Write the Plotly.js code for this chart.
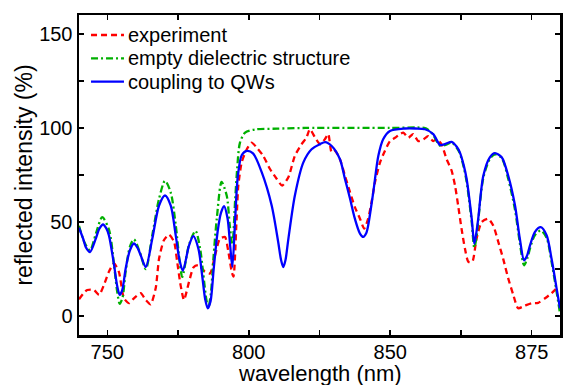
<!DOCTYPE html>
<html>
<head>
<meta charset="utf-8">
<script src="https://cdn.plot.ly/plotly-3.0.1.min.js"></script>
<style>html,body{margin:0;padding:0;background:#fff;}#chart{width:563px;height:385px;}</style>
</head>
<body>
<div id="chart"></div>
<script>
// experiment (red dashed)
const expX = [740,741.5,742.9,745.3,747.1,748.8,750.6,752.4,754.1,755.9,757.7,759.4,761.8,763.6,765.3,767.1,768.3,770,771.8,773.6,774.7,775.9,777.1,778.9,780.5,782.2,784.5,786.3,788.1,789.8,791.6,792.8,794,794.6,795.7,796.3,797.5,799.3,801,802.8,805.1,807.5,809.9,811.8,814,816.3,818.7,820.4,821.6,823.4,825.2,826.9,828.1,829.3,830.5,832.2,834,835.8,837.5,839.3,840.8,842.2,843.4,844.6,846.4,848.1,849.9,851.7,853.4,854.6,856.4,858.1,859.9,861.7,863.4,865.2,866.4,868.1,869.9,871.7,872.9,874,875.2,876.4,877.6,879,880.5,882.3,884.6,886.4,888.2,889.9,891.7,893.5,895.2,897.6,900,902.3,904.7,907,909.4];
const expY = [9,12,13.9,13.9,11.3,16.5,23.7,28,23.5,9.5,6.9,9.5,12.2,8.6,6.3,14.8,30.6,40.3,43.3,39.5,28.9,16.5,8.6,18.3,26,27.1,23.6,22.7,32.4,41.1,42,34.1,23.5,21,51.8,69.4,81.7,88.7,92.2,89.6,85.2,78.2,72.9,69.4,73.8,85.2,91.4,94.9,99.3,95,91.4,94,96.7,86.9,87.8,83.5,74.6,65.8,57.9,51.8,46.5,51.8,60.6,71.1,81.7,87.8,93,94.8,96.7,97.5,94.8,96.7,93,93.9,95.6,93,94,91.4,83.5,77.3,69.4,58.8,46.5,35.9,28.9,28.9,41.2,50,51.8,48.2,39.4,30.6,20.1,11.3,4.2,5.6,6.9,7.1,9.5,12.2,15.7];

// empty dielectric structure (green dash-dot)
const emptyX = [740,742,743.9,746,748.2,750.6,752.4,753.5,754.4,755.4,756.5,758,759.4,761.5,763.6,765.9,768.3,770.4,772.4,774.2,775.5,776.5,778.9,781.2,782.8,783.8,785,785.7,786.6,787.5,788.7,790.4,792.2,793.3,794.2,795.2,795.9,796.9,798.7,802.2,810,820,850,862,863.5,865.2,867.6,869.5,871.7,873.5,874.6,876,877,878.8,879.7,880.5,881.1,882.9,885.2,887,889.4,891.7,894.1,895.8,897.3,898.5,899.4,901.1,903.2,905.3,907,908.8,910];
const emptyY = [48,39,35,44,52.6,46,27,13,6.5,10,24,37,40.8,34,25,43,62.4,71.9,65.8,48.2,30,20.9,38,45.3,36,24,9,4.5,12,30.6,51.8,71.3,64.1,48,38,62,78.2,92.2,97.5,99.2,99.6,100,100,100,99,96.3,90.5,91,92.2,89.5,86.5,79,71.5,50,36.5,42,50.5,73.5,83.5,86,84,73,56.5,39,27,31,36,43,45.5,41.5,29,13,1.5];

// coupling to QWs (blue solid)
const qwX = [740,741.5,742.4,743.9,745.9,747.2,748.5,749.7,750.6,752.4,753.5,754.4,755.3,756.5,758,759.4,760.6,761.8,763.6,765.9,768.3,770.4,772.4,774.2,775.5,776.7,778.9,780.4,782.2,783.5,784.6,785.5,786.5,787.6,789,790.2,791.3,792.5,793.4,794.2,795.2,796.1,797.5,799.3,801.5,804.6,808.1,810.4,811.4,812.2,813,814,816.3,819.3,822.2,825.2,827,829.3,832.2,834,835.8,837.5,839.3,840.5,841.5,842.2,844,845.8,847.5,849.9,855.2,859,862.3,865.2,867.6,869.5,871.7,873.5,874.6,876,877,878.8,879.7,880.4,881.1,882.9,885.2,887,889.4,891.7,894.1,895.8,897.3,898.3,899.4,901.1,903.2,905.3,907,908.8,910];
const qwY = [47,41,36.7,34.1,41.1,46.5,48.7,46.5,42.8,27.1,16,11.3,14,25.4,35,38.6,36.5,32.4,26.1,41.1,58.8,64.1,58.8,42.8,30,24.1,37.6,42.5,35.9,22,9,4.2,8,25,45,55,58.4,52,38,26.1,51.8,73.8,85.5,87.8,86.5,76.4,58.8,39.4,30,26.1,30,41.1,64.1,81.7,88.7,91.4,92.5,90.4,83.5,72.9,62.4,51.8,43.9,42.1,44,48.2,65.8,85.2,94,98.4,99.7,99.7,99.3,96.7,91,91.5,92.6,90,87,80,72.9,51.8,38.6,44,51.8,74.6,84.4,86.6,84.4,74.6,58.8,41.2,29.7,32,37.6,44.7,47.3,42.9,30.6,14.8,4.2];

// series names and styles
const names = ['experiment', 'empty dielectric structure', 'coupling to QWs'];
const colors = ['#ff0000', '#00b000', '#0000ff'];
const dashes = ['6px,4px', '7px,3px,2px,3px', 'solid'];

// axis ticks and titles
const xTickVals = [750,775,800,825,850,875,900];
const xTickText = ['750','','800','','850','','875'];
const yTickVals = [0,25,50,75,100,125,150];
const yTickText = ['0','','50','','100','','150'];
const xTitle = 'wavelength (nm)';
const yTitle = 'reflected intensity (%)';

const FONT = 'Liberation Sans, Arial, Helvetica, sans-serif';

const series = [[expX, expY, 0.6], [emptyX, emptyY, 0.8], [qwX, qwY, 0.8]];
const traces = series.map((s, i) => ({
  x: s[0], y: s[1], name: names[i], mode: 'lines', showlegend: false,
  line: {color: colors[i], width: 2.3, dash: dashes[i], shape: 'spline', smoothing: s[2]}
}));

// legend drawn in paper coordinates (rows at fixed spacing)
const legRowsY = [0.9375, 0.8647, 0.7916];
const shapes = [], annotations = [];
names.forEach((n, i) => {
  shapes.push({type: 'line', xref: 'paper', yref: 'paper', x0: 0.025, x1: 0.0935,
    y0: legRowsY[i], y1: legRowsY[i], line: {color: colors[i], width: 2.3, dash: dashes[i]}});
  annotations.push({xref: 'paper', yref: 'paper', x: 0.0985, y: legRowsY[i], xanchor: 'left', yanchor: 'middle',
    text: n, showarrow: false, font: {family: FONT, size: 20, color: '#000'}});
});
// x-axis title, sitting low under the tick labels as in the reference
annotations.push({xref: 'paper', yref: 'paper', x: 0.5, y: -0.119, xanchor: 'center', yanchor: 'middle',
  text: xTitle, showarrow: false, borderpad: 0, font: {family: FONT, size: 22, color: '#000'}});

const axisCommon = {
  showgrid: false, zeroline: false, showline: true, linecolor: '#000', linewidth: 2.5,
  mirror: 'ticks', ticks: 'inside', ticklen: 5, tickwidth: 1.5, tickcolor: '#000',
  tickmode: 'array', tickfont: {family: FONT, size: 20, color: '#000'}
};

const layout = {
  width: 563, height: 385,
  margin: {l: 79, r: 3, t: 15, b: 50, pad: 0},
  paper_bgcolor: '#fff', plot_bgcolor: '#fff',
  font: {family: FONT, size: 20, color: '#000'},
  showlegend: false,
  shapes: shapes, annotations: annotations,
  xaxis: Object.assign({}, axisCommon, {
    range: [740, 910], tickvals: xTickVals, ticktext: xTickText, ticklabelstandoff: -3
  }),
  yaxis: Object.assign({}, axisCommon, {
    range: [-10, 160], tickvals: yTickVals, ticktext: yTickText,
    title: {text: yTitle, font: {family: FONT, size: 23, color: '#000'}, standoff: 0}
  })
};

Plotly.newPlot('chart', traces, layout, {displayModeBar: false, staticPlot: true});
</script>
</body>
</html>
